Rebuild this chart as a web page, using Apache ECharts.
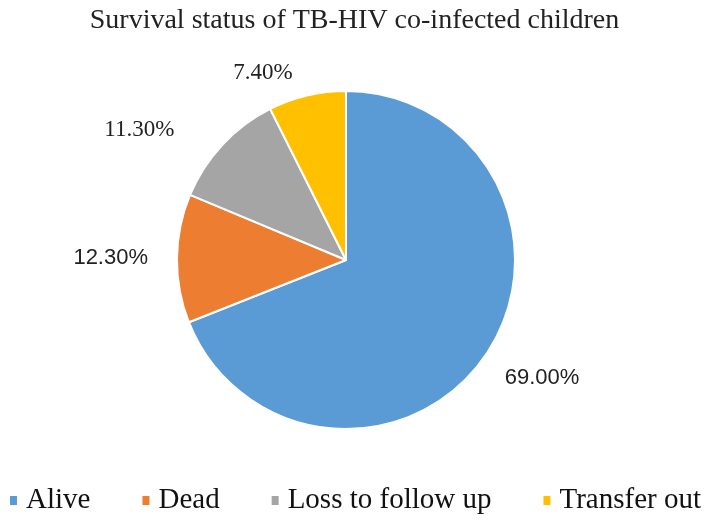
<!DOCTYPE html>
<html>
<head>
<meta charset="utf-8">
<script src="https://cdn.jsdelivr.net/npm/echarts@6/dist/echarts.min.js"></script>
<style>html,body{margin:0;padding:0;background:#fff}#c{width:709px;height:532px}</style>
</head>
<body>
<div id="c"></div>
<script>
const categories = ['Alive', 'Dead', 'Loss to follow up', 'Transfer out'];
const values = [69.0, 12.3, 11.3, 7.4];
const colors = ['#5B9BD5', '#ED7D31', '#A5A5A5', '#FFC000'];
const labelFonts = ['Liberation Sans', 'Liberation Sans', 'Liberation Serif', 'Liberation Serif'];
const labelSizes = [22, 22, 23, 23];
const lineLen = [41, 10, 22, 23];
const lineLen2 = [-15, 19, 32, 9];

const chart = echarts.init(document.getElementById('c'));
chart.setOption({
  animation: false,
  backgroundColor: '#fff',
  title: {
    text: 'Survival status of TB-HIV co-infected children',
    left: 'center', top: 2,
    textStyle: { fontFamily: 'Liberation Serif', fontSize: 28, fontWeight: 'normal', color: '#222' }
  },
  legend: {
    bottom: 12, left: 'center',
    itemWidth: 9, itemHeight: 11, itemGap: 50,
    icon: 'rect',
    textStyle: { fontFamily: 'Liberation Serif', fontSize: 29, color: '#111', padding: [0, 0, 0, 3] },
    data: categories
  },
  series: [{
    type: 'pie',
    center: [346, 260],
    radius: [0, 169],
    startAngle: 90,
    clockwise: true,
    avoidLabelOverlap: false,
    itemStyle: { borderColor: '#fff', borderWidth: 2 },
    label: {
      show: true, position: 'outside', distanceToLabelLine: 0,
      fontSize: 22, color: '#222',
      formatter: p => p.value.toFixed(2) + '%'
    },
    labelLine: { show: false },
    data: categories.map((n, i) => ({
      name: n, value: values[i],
      itemStyle: { color: colors[i] },
      label: { fontFamily: labelFonts[i], fontSize: labelSizes[i] },
      labelLine: { show: false, length: lineLen[i], length2: lineLen2[i] }
    }))
  }]
});
</script>
</body>
</html>
